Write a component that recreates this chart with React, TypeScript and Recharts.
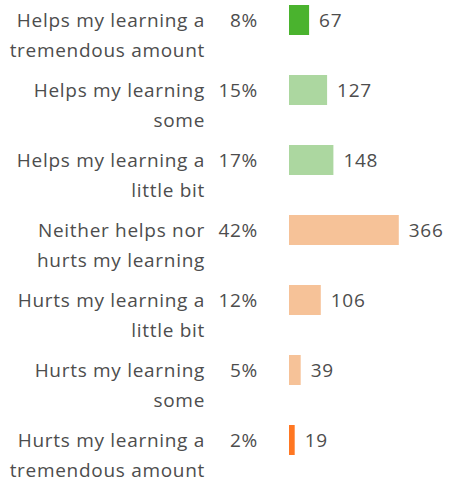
import { BarChart, Bar, XAxis, YAxis, Cell, LabelList } from 'recharts'

const categories = [
  'Helps my learning a\ntremendous amount',
  'Helps my learning\nsome',
  'Helps my learning a\nlittle bit',
  'Neither helps nor\nhurts my learning',
  'Hurts my learning a\nlittle bit',
  'Hurts my learning\nsome',
  'Hurts my learning a\ntremendous amount',
]
const counts = [67, 127, 148, 366, 106, 39, 19]
const percents = ['8%', '15%', '17%', '42%', '12%', '5%', '2%']
const colors = ['#4ab32e', '#acd7a0', '#acd7a0', '#f6c298', '#f6c298', '#f6c298', '#ff7722']

const FONT = '"Open Sans", sans-serif'
const TEXT = '#4d4d4d'
const textStyle = { fontSize: 19, fontFamily: FONT, fill: TEXT, letterSpacing: 0.7 }

const data = categories.map((c, i) => ({ name: c, count: counts[i], pct: percents[i] }))

function CategoryTick(props: any) {
  const { x, y, payload, index } = props
  const lines = String(payload.value).split('\n')
  return (
    <g>
      {lines.map((l, i) => (
        <text key={i} x={x - 76} y={y + i * 30} dy={7} textAnchor="end" style={textStyle}>
          {l}
        </text>
      ))}
      <text x={x - 23} y={y} dy={7} textAnchor="end" style={textStyle}>
        {percents[index]}
      </text>
    </g>
  )
}

export default function App() {
  return (
    <div style={{ position: 'absolute', left: 0, top: 0 }}>
      <BarChart
        width={449}
        height={481}
        data={data}
        layout="vertical"
        margin={{ top: -15, right: 10, bottom: 6, left: 0 }}
        barSize={30}
      >
        <XAxis type="number" domain={[0, 500]} hide />
        <YAxis
          type="category"
          dataKey="name"
          width={289}
          axisLine={false}
          tickLine={false}
          tick={<CategoryTick />}
          interval={0}
        />
        <Bar dataKey="count" isAnimationActive={false} minPointSize={4}>
          {data.map((d, i) => (
            <Cell key={d.name} fill={colors[i]} />
          ))}
          <LabelList dataKey="count" position="right" offset={10} style={textStyle} />
        </Bar>
      </BarChart>
    </div>
  )
}
